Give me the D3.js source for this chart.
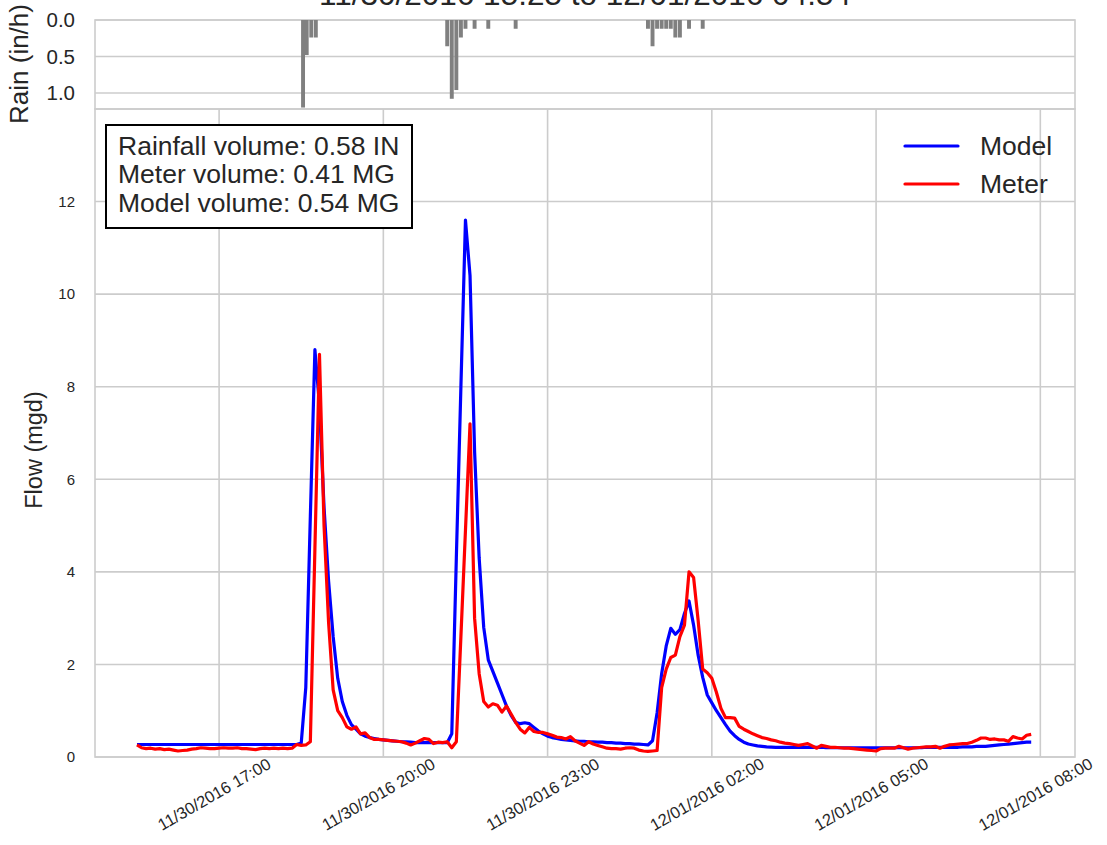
<!DOCTYPE html>
<html><head><meta charset="utf-8">
<script src="https://cdn.jsdelivr.net/npm/d3@7"></script>
<style>
body{margin:0;background:#fff;}
svg{display:block;font-family:"Liberation Sans",Arial,sans-serif;}
</style>
</head><body>
<svg id="c" width="1107" height="845"></svg>
<script>
// ---------------- data ----------------
const startTime = "2016-11-30T15:30";
const stepMinutes = 5;

const modelFlow = [
0.27,0.27,0.27,0.27,0.27,0.27,0.27,0.27,0.27,0.27,
0.27,0.27,0.27,0.27,0.27,0.27,0.27,0.27,0.27,0.27,
0.27,0.27,0.27,0.27,0.27,0.27,0.27,0.27,0.27,0.27,
0.27,0.27,0.27,0.27,0.27,0.27,0.3,1.5,5.2,8.8,
7.6,5.4,3.8,2.6,1.7,1.2,0.9,0.7,0.6,0.5,
0.45,0.42,0.4,0.38,0.37,0.36,0.35,0.34,0.33,0.33,
0.32,0.31,0.31,0.31,0.31,0.31,0.31,0.31,0.31,0.5,
4.3,8.0,11.6,10.4,6.6,4.3,2.8,2.1,1.85,1.6,
1.35,1.1,0.9,0.75,0.72,0.74,0.72,0.64,0.56,0.5,
0.45,0.42,0.4,0.38,0.37,0.36,0.35,0.34,0.34,0.33,
0.33,0.32,0.32,0.31,0.31,0.3,0.3,0.29,0.29,0.28,
0.28,0.27,0.26,0.35,0.95,1.8,2.4,2.78,2.65,2.75,
3.1,3.37,2.85,2.2,1.72,1.34,1.17,1.0,0.85,0.7,
0.56,0.46,0.38,0.32,0.28,0.26,0.24,0.23,0.22,0.215,
0.21,0.21,0.21,0.21,0.21,0.21,0.21,0.21,0.21,0.21,
0.21,0.2,0.2,0.2,0.2,0.2,0.2,0.2,0.2,0.2,
0.2,0.2,0.2,0.2,0.2,0.2,0.2,0.2,0.2,0.2,
0.2,0.2,0.2,0.21,0.21,0.21,0.21,0.21,0.21,0.21,
0.21,0.22,0.22,0.22,0.23,0.23,0.23,0.24,0.25,0.26,
0.27,0.28,0.29,0.3,0.31,0.32,0.32
];

const meterFlow = [
0.26,0.2,0.18,0.19,0.17,0.18,0.16,0.17,0.15,0.13,
0.14,0.15,0.17,0.18,0.2,0.19,0.18,0.18,0.19,0.2,
0.19,0.19,0.2,0.18,0.18,0.17,0.16,0.18,0.19,0.18,
0.19,0.18,0.19,0.18,0.19,0.27,0.25,0.26,0.33,4.5,
8.7,5.0,2.9,1.45,1.0,0.85,0.65,0.6,0.65,0.5,
0.52,0.42,0.38,0.38,0.37,0.36,0.35,0.34,0.33,0.3,
0.26,0.3,0.35,0.4,0.38,0.29,0.32,0.31,0.33,0.2,
0.33,2.6,4.9,7.2,3.0,1.8,1.2,1.08,1.15,1.12,
0.97,1.1,0.93,0.75,0.6,0.52,0.64,0.55,0.53,0.53,
0.5,0.47,0.43,0.42,0.39,0.44,0.35,0.3,0.25,0.33,
0.28,0.25,0.22,0.19,0.18,0.18,0.17,0.19,0.2,0.19,
0.15,0.13,0.12,0.13,0.14,1.5,1.9,2.15,2.2,2.6,
2.85,4.0,3.88,2.95,1.9,1.82,1.7,1.4,1.05,0.85,
0.85,0.84,0.66,0.6,0.55,0.5,0.46,0.42,0.4,0.37,
0.35,0.32,0.3,0.29,0.27,0.25,0.27,0.29,0.24,0.19,
0.25,0.23,0.21,0.21,0.2,0.19,0.19,0.18,0.17,0.16,
0.15,0.14,0.13,0.18,0.19,0.19,0.19,0.23,0.2,0.17,
0.19,0.2,0.21,0.22,0.22,0.23,0.19,0.23,0.26,0.27,
0.28,0.29,0.29,0.32,0.36,0.41,0.41,0.38,0.39,0.37,
0.37,0.34,0.44,0.41,0.39,0.47,0.49
];

const rainTimes = [
"2016-11-30T18:32","2016-11-30T18:36","2016-11-30T18:41","2016-11-30T18:46",
"2016-11-30T21:10","2016-11-30T21:15","2016-11-30T21:20","2016-11-30T21:25",
"2016-11-30T21:30","2016-11-30T21:40","2016-11-30T21:55","2016-11-30T22:25",
"2016-12-01T00:50","2016-12-01T00:55","2016-12-01T01:00","2016-12-01T01:05",
"2016-12-01T01:10","2016-12-01T01:15","2016-12-01T01:20","2016-12-01T01:25",
"2016-12-01T01:35","2016-12-01T01:50"
];
const rainValues = [
1.2,0.48,0.24,0.24,
0.36,1.08,0.96,0.24,
0.12,0.12,0.12,0.12,
0.12,0.36,0.12,0.12,
0.12,0.12,0.24,0.24,
0.12,0.12
];

const flowTicks = [0,2,4,6,8,10,12];
const rainTicks = [0.0,0.5,1.0];
const timeTicks = ["2016-11-30T17:00","2016-11-30T20:00","2016-11-30T23:00",
                   "2016-12-01T02:00","2016-12-01T05:00","2016-12-01T08:00"];
const xDomain = ["2016-11-30T14:44","2016-12-01T08:38"];
const titleText = "11/30/2016 15:25 to 12/01/2016 04:54";
const boxLines = ["Rainfall volume: 0.58 IN","Meter volume: 0.41 MG","Model volume: 0.54 MG"];
const seriesNames = ["Model","Meter"];
const seriesColors = ["#0000ff","#ff0000"];

// ---------------- drawing ----------------
const parse = d3.timeParse("%Y-%m-%dT%H:%M");
const fmt = d3.timeFormat("%m/%d/%Y %H:%M");
const t0 = parse(startTime);
const times = modelFlow.map((_, i) => d3.timeMinute.offset(t0, i * stepMinutes));

const L = 95, R = 1075;
const rainTop = 20, rainBot = 109;
const mainTop = 109, mainBot = 757;
const grid = "#cccccc", tickCol = "#262626";
const FONT = '"Liberation Sans",Arial,sans-serif';

const svg = d3.select("#c");
const x = d3.scaleTime().domain(xDomain.map(parse)).range([L, R]);
const yRain = d3.scaleLinear().domain([0, 1.22]).range([rainTop, rainBot]);
const yFlow = d3.scaleLinear().domain([0, 14]).range([mainBot, mainTop]);

// title (partially cut at top as in reference)
svg.append("text").attr("x", (L + R) / 2).attr("y", 5)
  .attr("text-anchor", "middle").attr("font-size", 31.5).attr("fill", tickCol)
  .text(titleText);

// ---- rain panel ----
const gR = svg.append("g");
gR.selectAll("line.hg").data(rainTicks).join("line")
  .attr("x1", L).attr("x2", R).attr("y1", d => yRain(d)).attr("y2", d => yRain(d))
  .attr("stroke", grid).attr("stroke-width", 1.6);
gR.append("rect").attr("x", L).attr("y", rainTop).attr("width", R - L).attr("height", rainBot - rainTop)
  .attr("fill", "none").attr("stroke", grid).attr("stroke-width", 1.6);
const barMin = 4.3;
gR.selectAll("rect.bar").data(rainValues).join("rect").attr("class", "bar")
  .attr("x", (d, i) => { const t = parse(rainTimes[i]); return x(d3.timeSecond.offset(t, -barMin * 30)); })
  .attr("width", (d, i) => { const t = parse(rainTimes[i]); return x(d3.timeSecond.offset(t, barMin * 30)) - x(d3.timeSecond.offset(t, -barMin * 30)); })
  .attr("y", yRain(0)).attr("height", d => yRain(d) - yRain(0))
  .attr("fill", "#808080");
const rainAxis = d3.axisLeft(yRain).tickValues(rainTicks).tickFormat(d3.format(".1f")).tickSize(0).tickPadding(20);
const ra = svg.append("g").attr("transform", `translate(${L},0)`).call(rainAxis);
ra.select(".domain").remove();
ra.selectAll("text").attr("font-size", 20.5).attr("fill", tickCol).attr("font-family", FONT);
svg.append("text").attr("transform", `translate(28,64) rotate(-90)`)
  .attr("text-anchor", "middle").attr("font-size", 26).attr("fill", tickCol).text("Rain (in/h)");

// ---- flow panel ----
const gF = svg.append("g");
gF.selectAll("line.hg").data(flowTicks).join("line")
  .attr("x1", L).attr("x2", R).attr("y1", d => yFlow(d)).attr("y2", d => yFlow(d))
  .attr("stroke", grid).attr("stroke-width", 1.6);
gF.selectAll("line.vg").data(timeTicks.map(parse)).join("line")
  .attr("x1", d => x(d)).attr("x2", d => x(d)).attr("y1", mainTop).attr("y2", mainBot)
  .attr("stroke", grid).attr("stroke-width", 1.6);
gF.append("rect").attr("x", L).attr("y", mainTop).attr("width", R - L).attr("height", mainBot - mainTop)
  .attr("fill", "none").attr("stroke", grid).attr("stroke-width", 1.6);

const yAxis = d3.axisLeft(yFlow).tickValues(flowTicks).tickFormat(d3.format("d")).tickSize(0).tickPadding(20);
const ya = svg.append("g").attr("transform", `translate(${L},0)`).call(yAxis);
ya.select(".domain").remove();
ya.selectAll("text").attr("font-size", 15).attr("fill", tickCol).attr("font-family", FONT);
svg.append("text").attr("transform", `translate(42,450) rotate(-90)`)
  .attr("text-anchor", "middle").attr("font-size", 23.5).attr("fill", tickCol).text("Flow (mgd)");

// x tick labels
svg.append("g").selectAll("text").data(timeTicks.map(parse)).join("text")
  .attr("transform", d => `translate(${x(d) - 5},794) rotate(-30)`)
  .attr("text-anchor", "middle").attr("dominant-baseline", "central")
  .attr("font-size", 16.5).attr("fill", tickCol).text(d => fmt(d));

// lines
const line = d3.line().x((d, i) => x(times[i])).y(d => yFlow(d));
[modelFlow, meterFlow].forEach((s, k) => {
  svg.append("path").datum(s).attr("d", line).attr("fill", "none")
    .attr("stroke", seriesColors[k]).attr("stroke-width", 3.2).attr("stroke-linejoin", "round");
});

// text box
svg.append("rect").attr("x", 106).attr("y", 125).attr("width", 306).attr("height", 103)
  .attr("fill", "#fff").attr("stroke", "#000").attr("stroke-width", 2);
svg.append("g").selectAll("text").data(boxLines).join("text")
  .attr("x", 118).attr("y", (d, i) => 155 + i * 28.3)
  .attr("font-size", 26.5).attr("fill", tickCol).text(d => d);

// legend
const lg = svg.append("g");
seriesNames.forEach((n, k) => {
  const cy = 146 + k * 38;
  lg.append("line").attr("x1", 905).attr("x2", 958).attr("y1", cy).attr("y2", cy)
    .attr("stroke", seriesColors[k]).attr("stroke-width", 3.2).attr("stroke-linecap", "round");
  lg.append("text").attr("x", 980).attr("y", cy).attr("dominant-baseline", "central")
    .attr("font-size", 26.5).attr("fill", tickCol).text(n);
});
</script>
</body></html>
